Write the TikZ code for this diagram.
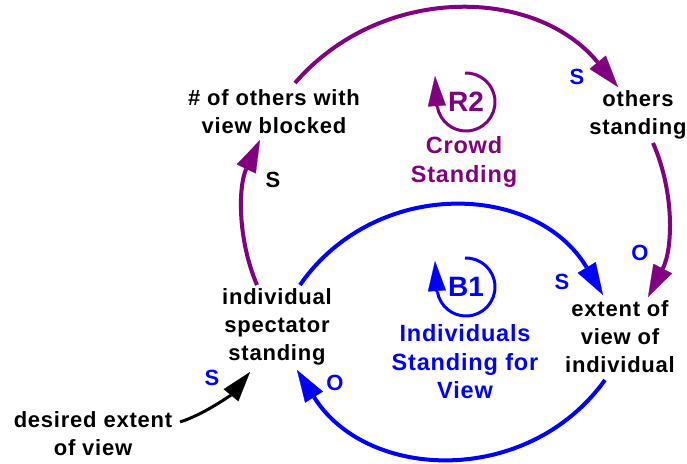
\documentclass[tikz,border=0pt]{standalone}
\usepackage{fontspec}
\setmainfont{Liberation Sans}
\newfontfamily\varfam[LetterSpace=3.5]{Liberation Sans}
\usetikzlibrary{arrows.meta}
\definecolor{purp}{RGB}{128,0,128}
\definecolor{blu}{RGB}{0,0,255}
\tikzset{
  var/.style={font=\varfam\bfseries\fontsize{22}{28}\selectfont, align=center, inner sep=0pt, text=black},
  looptitle/.style={font=\varfam\bfseries\fontsize{23.5}{28.5}\selectfont, align=center, inner sep=0pt},
  loopid/.style={font=\bfseries\fontsize{28}{30}\selectfont, inner sep=0pt},
  pol/.style={font=\bfseries\fontsize{22}{24}\selectfont, inner sep=0pt},
  bigtip/.style={-{Triangle[length=32pt,width=21pt,line width=0.2pt]}},
  parrow/.style={draw=purp, line width=4pt, bigtip},
  barrow/.style={draw=blu, line width=4pt, bigtip},
  karrow/.style={draw=black, line width=3pt, -{Triangle[length=30pt,width=19pt,line width=0.2pt]}},
  loopring/.style={line width=3pt},
  looptip/.style={line width=3pt, -{Triangle[length=30pt,width=18pt,line width=0.2pt]}}
}
\begin{document}
\begin{tikzpicture}[x=1pt,y=-1pt]
\useasboundingbox (0,0) rectangle (687,463);

% variables
\node[var] (blk) at (274,112) {\# of others with\\view blocked};
\node[var] (oth) at (638,115) {others\\standing};
\node[var] (ind) at (277,327) {individual\\spectator\\standing};
\node[var] (ext) at (620,337) {extent of\\view of\\individual};
\node[var] (des) at (93,434) {desired extent\\of view};

% loop markers
\node[loopid, text=purp] (r2) at (466,102) {R2};
\node[looptitle, text=purp] (r2t) at (464,162) {Crowd\\Standing};
\node[loopid, text=blu] (b1) at (466,287) {B1};
\node[looptitle, text=blu] (b1t) at (465,362) {Individuals\\Standing for\\View};

\draw[purp, loopring] ([shift={(-92:29)}]r2.center) arc[start angle=-92, end angle=170, radius=29];
\draw[purp, looptip] ([shift={(-29,5)}]r2.center) -- ([shift={(-31,-26)}]r2.center);
\draw[blu, loopring] ([shift={(-92:29)}]b1.center) arc[start angle=-92, end angle=170, radius=29];
\draw[blu, looptip] ([shift={(-29,5)}]b1.center) -- ([shift={(-31,-26)}]b1.center);

% connectors
\draw[parrow] ([shift={(-20,-42)}]ind.center) .. controls +(-19.8,-46.5) and +(-21.7,45.6) .. ([shift={(-14,28)}]blk.center);
\draw[parrow] ([shift={(21,-29)}]blk.center) .. controls +(85.7,-99) and +(-83,-101) .. ([shift={(-20,-28)}]oth.center);
\draw[parrow] ([shift={(15,28)}]oth.center) .. controls +(21.7,49.5) and +(24.9,-48) .. ([shift={(28,-40)}]ext.center);
\draw[barrow] ([shift={(23,-42)}]ind.center) .. controls +(75,-108) and +(-67,-113) .. ([shift={(-17,-42)}]ext.center);
\draw[barrow] ([shift={(-15,43)}]ext.center) .. controls +(-77,107) and +(70,111.5) .. ([shift={(20,43)}]ind.center);
\draw[karrow] ([shift={(87,-12)}]des.center) .. controls +(25,-8) and +(-18,22) .. ([shift={(-27,45)}]ind.center);

% polarities
\node[pol, text=black] (pA) at (273,180) {S};
\node[pol, text=blu] (pB) at (577,77) {S};
\node[pol, text=blu] (pC) at (640,253) {O};
\node[pol, text=blu] (pD) at (562,282) {S};
\node[pol, text=blu] (pE) at (335,383) {O};
\node[pol, text=blu] (pF) at (212,378) {S};
\end{tikzpicture}
\end{document}
